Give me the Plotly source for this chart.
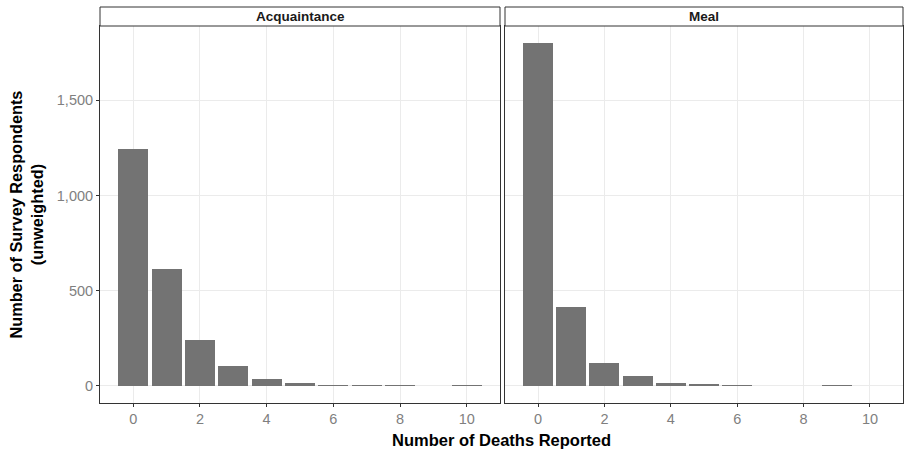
import plotly.graph_objects as go

deaths = [0, 1, 2, 3, 4, 5, 6, 7, 8, 9, 10]
acquaintance = [1245, 616, 240, 104, 34, 13, 3, 3, 3, 0, 3]
meal = [1800, 413, 119, 51, 14, 9, 3, 0, 0, 3, 0]
panels = ["Acquaintance", "Meal"]
x_ticks = [0, 2, 4, 6, 8, 10]
y_ticks = [0, 500, 1000, 1500]
y_labels = ["0", "500", "1,000", "1,500"]

W, H = 904, 457
ml, mr, mt, mb = 100, 1, 7, 54
pw = W - ml - mr
ph = H - mt - mb
left_end = 400 / pw
right_start = 405 / pw
ytop = (403 - 26) / ph

bar_color = "#737373"
fig = go.Figure()
fig.add_trace(go.Bar(x=deaths, y=acquaintance, width=0.9, marker=dict(color=bar_color, line=dict(width=0)),
                     xaxis="x", yaxis="y", showlegend=False))
fig.add_trace(go.Bar(x=deaths, y=meal, width=0.9, marker=dict(color=bar_color, line=dict(width=0)),
                     xaxis="x2", yaxis="y2", showlegend=False))

font_fam = "Liberation Sans, Arial, sans-serif"
axis_common = dict(showline=True, linecolor="#333333", linewidth=1, mirror=True,
                   gridcolor="#ebebeb", gridwidth=1, zeroline=False,
                   ticks="outside", ticklen=3, tickcolor="#333333",
                   tickfont=dict(family=font_fam, size=14.5, color="#7f7f7f"))
axis_noticks = {k: v for k, v in axis_common.items() if k != "ticks"}

fig.update_layout(
    width=W, height=H,
    margin=dict(l=ml, r=mr, t=mt, b=mb),
    plot_bgcolor="white", paper_bgcolor="white",
    bargap=0,
    xaxis=dict(domain=[0, left_end], range=[-0.995, 10.995], tickvals=x_ticks, anchor="y", **axis_common),
    xaxis2=dict(domain=[right_start, 1], range=[-0.995, 10.995], tickvals=x_ticks, anchor="y2", **axis_common),
    yaxis=dict(domain=[0, ytop], range=[-90, 1890], tickvals=y_ticks, ticktext=y_labels, anchor="x", **axis_common),
    yaxis2=dict(domain=[0, ytop], range=[-90, 1890], tickvals=y_ticks, ticktext=y_labels, anchor="x2",
                showticklabels=False, ticks="", **axis_noticks),
)

shapes = []
annotations = []
for (x0, x1), name in zip([(0, left_end), (right_start, 1)], panels):
    shapes.append(dict(type="rect", xref="paper", yref="paper", x0=x0, x1=x1, y0=ytop, y1=1,
                       line=dict(color="#333333", width=1), fillcolor="white", layer="above"))
    annotations.append(dict(xref="paper", yref="paper", x=(x0 + x1) / 2, y=(ytop + 1) / 2,
                            text="<b>" + name + "</b>", showarrow=False, xanchor="center", yanchor="middle",
                            font=dict(family=font_fam, size=13.5, color="#1a1a1a")))

annotations.append(dict(xref="paper", yref="paper", x=0.5, y=-37 / ph, yanchor="middle", xanchor="center",
                        text="<b>Number of Deaths Reported</b>", showarrow=False,
                        font=dict(family=font_fam, size=16.5, color="black")))
annotations.append(dict(xref="paper", yref="paper", x=-74 / pw, y=ytop / 2, xanchor="center", yanchor="middle",
                        text="<b>Number of Survey Respondents<br>(unweighted)</b>", showarrow=False, textangle=-90,
                        font=dict(family=font_fam, size=16.3, color="black")))
fig.update_layout(shapes=shapes, annotations=annotations)

fig.write_html("out.html", config={"displayModeBar": False},
               post_script="document.body.style.margin='0';document.body.style.overflow='hidden';")
